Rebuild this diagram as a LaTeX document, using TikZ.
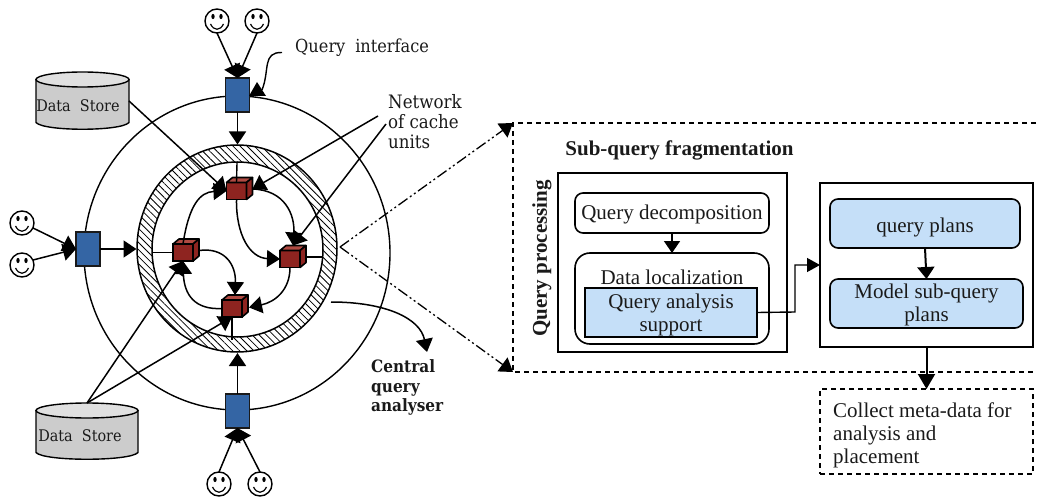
\documentclass[tikz,border=0pt]{standalone}
\usepackage{fontspec}
\setmainfont{Liberation Serif}
\newfontfamily\lfont{DejaVu Serif Condensed}
\usetikzlibrary{arrows.meta,patterns.meta,calc,shapes.geometric}
\definecolor{bluebox}{HTML}{3465A4}
\definecolor{redcube}{HTML}{8E2420}
\definecolor{redtop}{HTML}{B04A42}
\definecolor{lightblue}{HTML}{C5DFF8}
\definecolor{ink}{HTML}{1A1A1A}
\tikzset{
  big/.style={-{Triangle[length=13pt,width=17pt]}},
  link/.style={line width=1.5pt,big},
  plain/.style={line width=1.4pt},
  blue box/.style={draw=ink,line width=1.6pt,fill=bluebox,minimum width=24pt,minimum height=34pt,inner sep=0pt,outer sep=0pt},
  cube front/.style={draw=black,line width=1.7pt,fill=redcube,minimum width=20pt,minimum height=17pt,inner sep=0pt,outer sep=0pt},
  face/.style={draw=black,line width=1.4pt,fill=white,circle,minimum size=24pt,inner sep=0pt,outer sep=0pt},
  lbl/.style={font=\lfont\fontsize{16}{19}\selectfont,text=ink,inner sep=0pt,align=left},
  rt/.style={font=\fontsize{21}{23}\selectfont,text=ink,inner sep=0pt,align=center},
  solidbox/.style={draw=black,line width=1.8pt,inner sep=0pt,outer sep=0pt,fill=white},
  roundbox/.style={draw=black,line width=1.6pt,rounded corners=8pt,inner sep=0pt,outer sep=0pt},
  dashbox/.style={draw=black,line width=1.8pt,dash pattern=on 5pt off 4pt},
  dashdot/.style={big,line width=1.3pt,dash pattern=on 11pt off 3pt on 2pt off 3pt on 2pt off 3pt},
}
\newcommand{\cubeat}[3]{%
  \node[cube front] (#1) at (#2,#3) {};
  \draw[line width=1.6pt,fill=redtop,line join=round] (#1.north west) -- ++(6,-5) -- ++(20,0) -- (#1.north east) -- cycle;
  \draw[line width=1.6pt,fill=redcube,line join=round] (#1.north east) -- ++(6,-5) -- ++(0,17) -- (#1.south east) -- cycle;
  \coordinate (#1r) at ($(#1.east)+(6,-2)$);
  \coordinate (#1t) at ($(#1.north)+(3,-5)$);
}
\newcommand{\smiley}[3]{%
  \node[face] (#1) at (#2,#3) {};
  \fill ($(#1)+(-4,-4.5)$) ellipse (1.7 and 2.6);
  \fill ($(#1)+(4,-4.5)$) ellipse (1.7 and 2.6);
  \draw[line width=1.2pt] ($(#1)+(-6.5,3)$) .. controls ($(#1)+(-3,10)$) and ($(#1)+(3,10)$) .. ($(#1)+(6.5,3)$);
}
\newcommand{\datastore}[5]{% name, left, right, top, bottom
  \path[draw=black,line width=1.4pt,fill=black!20]
    (#2,#4+7.5) -- (#2,#5-7.5) .. controls (#2+8,#5+1.5) and (#3-8,#5+1.5) .. (#3,#5-7.5) -- (#3,#4+7.5) -- cycle;
  \path[draw=black,line width=1.4pt,fill=black!12]
    ({(#2+#3)/2},{#4+7.5}) ellipse ({(#3-#2)/2} and 7.5);
  \node[minimum width=#3pt-#2pt,minimum height=#5pt-#4pt,inner sep=0pt,outer sep=0pt] (#1) at ({(#2+#3)/2},{(#4+#5)/2}) {};
}
\begin{document}
\begin{tikzpicture}[x=1pt,y=-1pt]
\useasboundingbox (0,0) rectangle (1039,500);
% circles
\node[draw=black,line width=1.4pt,ellipse,minimum width=306pt,minimum height=314pt,inner sep=0pt] (outer) at (237,253) {};
\path[pattern={Lines[angle=-45,distance=5pt,line width=.8pt]},even odd rule] (237,248.5) ellipse (100 and 103.5) (237.5,249.5) ellipse (85.5 and 87.5);
\node[draw=black,line width=1.5pt,ellipse,minimum width=200pt,minimum height=207pt,inner sep=0pt,outer sep=0pt] (ringout) at (237,248.5) {};
\node[draw=black,line width=1.5pt,ellipse,minimum width=171pt,minimum height=175pt,inner sep=0pt,outer sep=0pt] (ringin) at (237.5,249.5) {};
% stores
\datastore{ds1}{36}{129}{72}{130}
\datastore{ds2}{36}{138}{403}{460}
\node[lbl] (ds1t) at (78,105.5) {Data~~Store};
\node[lbl] (ds2t) at (80,435.5) {Data~~Store};
% cubes
\cubeat{c1}{236.5}{191}
\cubeat{c2}{183}{252.5}
\cubeat{c3}{290}{259}
\cubeat{c4}{232}{308.5}
% ports
\node[blue box] (bt) at (237.5,95) {};
\node[blue box] (bb) at (237.5,411) {};
\node[blue box] (bl) at (88,249) {};
% smileys
\smiley{s1}{217}{21}
\smiley{s2}{257}{21}
\smiley{s3}{22}{223}
\smiley{s4}{22}{265}
\smiley{s5}{219}{484}
\smiley{s6}{260}{484}
% user arrows
\draw[link] (s1) ++(0,12) -- (bt.north);
\draw[link] (s2) ++(0,12) -- (bt.north);
\draw[link] (s3) ++(11,5) -- (bl.west);
\draw[link] (s4) ++(11,-5) -- (bl.west);
\draw[link] (s5) ++(0,-12) -- (bb.south);
\draw[link] (s6) ++(0,-12) -- (bb.south);
% port arrows
\draw[link] (bt.south) -- (237.5,144.5);
\draw[link] (bb.north) -- (237.5,353);
\draw[link] (bl.east) -- (136.5,249);
% spokes
\draw[plain] (237,163) -- (c1.north);
\draw[plain] (152,252.5) -- (c2.west);
\draw[plain] (c3r) -- (323,257);
\draw[plain] (c4.south) -- (232,340);
% curves
\draw[link] (c1r) .. controls (285,190) and (295,215) .. (c3t);
\draw[link] (c1.south) .. controls (236,235) and (250,258) .. (c3.west);
\draw[link] (c3.south) .. controls (290,290) and (275,302) .. ($(c4r)+(1,1)$);
\draw[link] (c4.west) .. controls (195,310) and (184,295) .. (c2.south);
\draw[link] (c2r) .. controls (225,247) and (236,265) .. (c4t);
\draw[link] (c2.north) .. controls (189,205) and (200,192) .. (c1.west);
% stores to cubes
\draw[link] (ds1.east) -- (c1.west);
\draw[link] (ds2.north) -- (c2.south);
\draw[link] (ds2.north) -- (c4.south);
% network label
\node[lbl,anchor=north west,font=\lfont\fontsize{18.5}{20}\selectfont] (net) at (388,94) {Network\\of cache\\units};
\coordinate (n1) at (378,116);
\coordinate (n2) at (386,124);
\draw[link] (n1) -- (c1r);
\draw[link] (n2) -- (c3t);
% query interface
\node[lbl,anchor=west,font=\lfont\fontsize{18}{20}\selectfont] (qi) at (295,47.5) {Query\hspace{0.55em}interface};
\coordinate (qia) at (262,90);
\draw[plain] (qi.west) ++(-13,5) .. controls (262,52) and (270,70) .. (qia);
\fill (257,82) -- (249,96) -- (266,96) -- cycle;
% central query analyser
\node[lbl,anchor=north west,font=\lfont\bfseries\fontsize{17}{19.5}\selectfont] (cqa) at (371,359.5) {Central\\query\\analyser};
\coordinate (cqs) at (331,302);
\coordinate (cqe) at (427,352);
\draw[link] (cqs) .. controls (385,302) and (420,318) .. (cqe);
% detail frame
\coordinate (fa) at (1036,123);
\coordinate (fb) at (513,123);
\coordinate (fc) at (513,372);
\coordinate (fd) at (1036,372);
\draw[dashbox] (fa) -- (fb) -- (fc) -- (fd);
\coordinate (cc) at (340,247);
\draw[dashdot] (cc) -- (fb);
\draw[dashdot] (cc) -- (fc);
% box A
\node[solidbox,minimum width=229pt,minimum height=179pt] (A) at (672.5,262.5) {};
\node[font=\bfseries\fontsize{21}{23}\selectfont,text=ink,inner sep=0pt] (sq) at (679.5,150.5) {Sub-query fragmentation};
\node[font=\bfseries\fontsize{21}{23}\selectfont,text=ink,inner sep=0pt,rotate=90] (qp) at (542,258.5) {Query processing};
\node[roundbox,minimum width=194pt,minimum height=40pt] (qd) at (672,213) {};
\node[rt] at (672,214) {Query decomposition};
\node[roundbox,rounded corners=15pt,minimum width=194pt,minimum height=91pt] (dl) at (672,298.5) {};
\node[rt] at (672,277) {Data localization};
\node[draw=black,line width=1.7pt,fill=lightblue,minimum width=172pt,minimum height=49pt,inner sep=0pt,outer sep=0pt] (qa) at (671,312.5) {};
\node[rt] at (671,315) {Query analysis\\support};
\draw[line width=1.6pt,-{Triangle[length=12pt,width=16pt]}] (qd.south) -- (dl.north);
% box B
\node[solidbox,minimum width=213pt,minimum height=164pt] (B) at (926.5,265) {};
\node[roundbox,fill=lightblue,minimum width=190pt,minimum height=49pt] (qpl) at (925,223.5) {};
\node[rt] at (925,227) {query plans};
\node[roundbox,fill=lightblue,minimum width=193pt,minimum height=49pt] (msq) at (926.5,303.5) {};
\node[rt] at (926.5,305) {Model sub-query\\plans};
\draw[line width=2pt,-{Triangle[length=12pt,width=17pt]}] (qpl.south) -- (msq.north);
\draw[line width=1.4pt,-{Triangle[length=13pt,width=14pt]}] (qa.east) -- (795,312) -- (795,265) -- (B.west);
% collect
\node[dashbox,minimum width=213pt,minimum height=85pt,inner sep=0pt,outer sep=0pt] (cm) at (926.5,431.5) {};
\node[rt,anchor=west,align=left] at (833,435) {Collect meta-data for\\analysis and\\placement};
\draw[line width=2pt,-{Triangle[length=15pt,width=17pt]}] (B.south -| cm.north) -- (cm.north);
\end{tikzpicture}
\end{document}
